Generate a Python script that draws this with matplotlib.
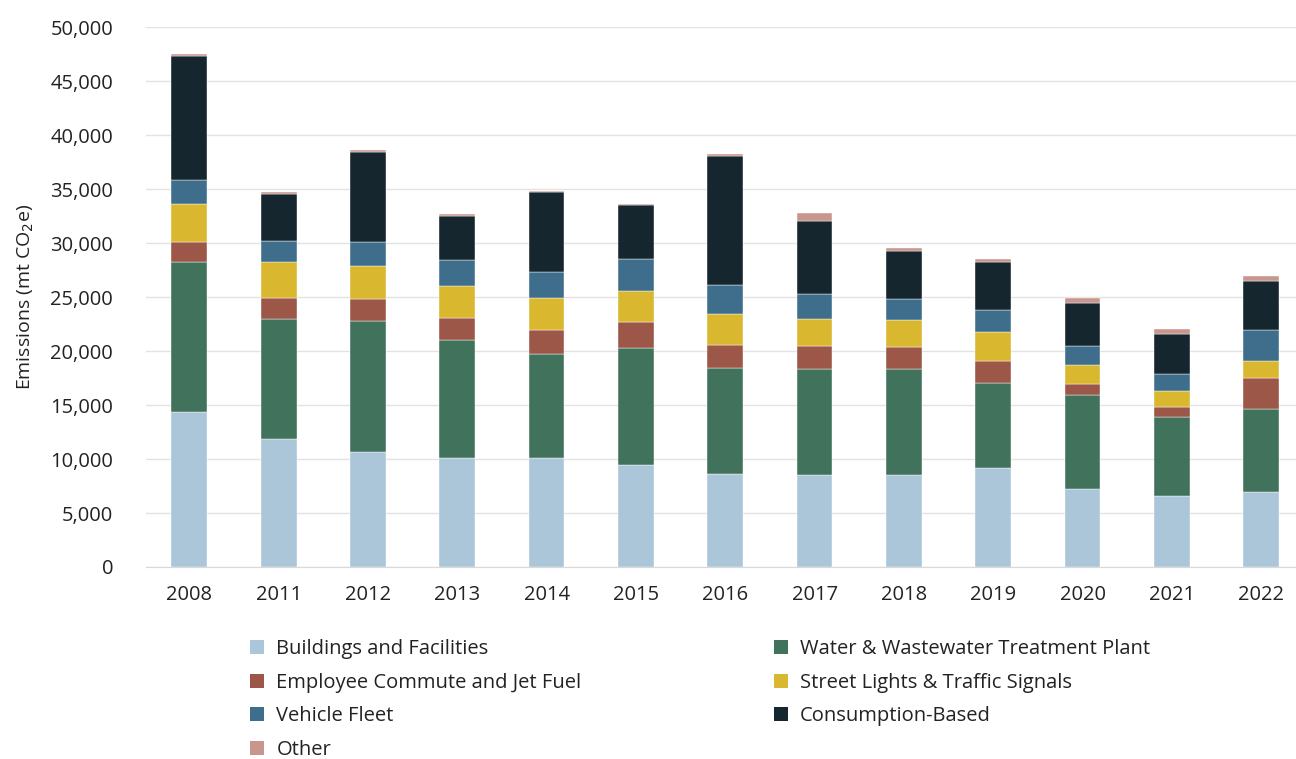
import numpy as np
import matplotlib
matplotlib.use('Agg')
import matplotlib.pyplot as plt
from matplotlib.patches import Patch

plt.rcParams['font.family'] = ['Open Sans', 'DejaVu Sans']

# Data (mt CO2e)
years = ['2008', '2011', '2012', '2013', '2014', '2015', '2016', '2017',
         '2018', '2019', '2020', '2021', '2022']
buildings = [14400, 11850, 10670, 10130, 10120, 9410, 8640, 8520, 8560, 9150, 7210, 6620, 6930]
water = [13900, 11080, 12100, 10860, 9650, 10860, 9780, 9850, 9820, 7940, 8740, 7270, 7670]
employee = [1850, 2010, 2070, 2100, 2200, 2440, 2190, 2100, 2030, 2000, 960, 890, 2890]
street = [3470, 3280, 3090, 2960, 2930, 2840, 2810, 2530, 2430, 2680, 1820, 1480, 1630]
vehicle = [2230, 1940, 2200, 2420, 2460, 3020, 2720, 2280, 1970, 2060, 1720, 1630, 2860]
consumption = [11500, 4400, 8280, 4050, 7400, 4970, 11940, 6790, 4460, 4400, 4030, 3660, 4500]
other = [190, 190, 190, 220, 120, 120, 185, 740, 280, 310, 430, 460, 460]

series = [
    ('Buildings and Facilities', buildings, '#abc6d9'),
    ('Water & Wastewater Treatment Plant', water, '#41725b'),
    ('Employee Commute and Jet Fuel', employee, '#9c5749'),
    ('Street Lights & Traffic Signals', street, '#d9b72e'),
    ('Vehicle Fleet', vehicle, '#3f6e8c'),
    ('Consumption-Based', consumption, '#15262e'),
    ('Other', other, '#c9968d'),
]

fig = plt.figure(figsize=(12.96, 7.59), dpi=100)
ax = fig.add_axes([0.113, 0.253, 0.887, 0.711])

x = np.arange(len(years))
bottom = np.zeros(len(years))
for name, vals, color in series:
    ax.bar(x, vals, width=0.4, bottom=bottom, color=color, label=name,
           edgecolor='white', linewidth=0.3, zorder=3)
    bottom += np.array(vals)

ax.set_ylim(0, 50000)
ax.set_xlim(-0.48, 12.39)
ax.set_yticks(np.arange(0, 50001, 5000))
ax.yaxis.set_major_formatter(matplotlib.ticker.FuncFormatter(lambda v, p: f'{int(v):,}'))
ax.set_xticks(x)
ax.set_xticklabels(years)
ax.tick_params(axis='both', length=0, labelsize=14.5, colors='#222222')
ax.tick_params(axis='y', pad=24)
ax.tick_params(axis='x', pad=13)
ax.grid(axis='y', color='#e3e3e3', linewidth=1, zorder=0)
for s in ['top', 'right', 'left']:
    ax.spines[s].set_visible(False)
ax.spines['bottom'].set_color('#d9d9d9')
ax.set_ylabel('Emissions (mt CO$_2$e)', fontsize=14, color='#222222', labelpad=10)

handles = [Patch(facecolor=c, edgecolor='none') for _, _, c in series]
labels = [n for n, _, _ in series]
left_idx = [0, 2, 4, 6]
right_idx = [1, 3, 5]
common = dict(frameon=False, fontsize=14.5, handlelength=0.7, handleheight=0.7,
              handletextpad=0.6, labelspacing=0.68, borderaxespad=0, borderpad=0,
              labelcolor='#222222')
leg1 = fig.legend([handles[i] for i in left_idx], [labels[i] for i in left_idx],
                  loc='upper left', bbox_to_anchor=(0.193, 0.158), **common)
leg2 = fig.legend([handles[i] for i in right_idx], [labels[i] for i in right_idx],
                  loc='upper left', bbox_to_anchor=(0.597, 0.158), **common)

fig.savefig('out.png', dpi=100)
